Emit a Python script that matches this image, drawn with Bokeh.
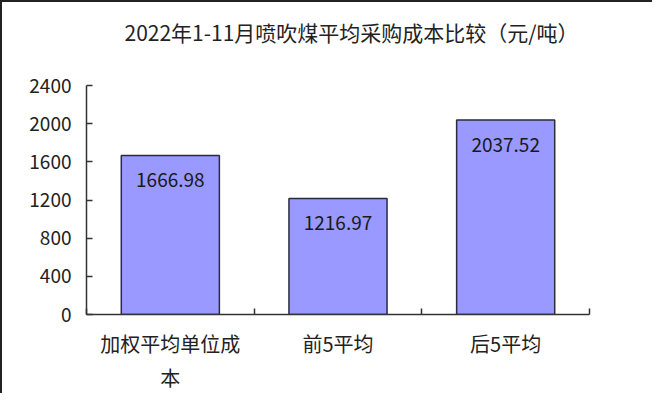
from bokeh.plotting import figure
from bokeh.models import Range1d, FixedTicker, Title
from bokeh.core.properties import value
from bokeh.embed import file_html
from bokeh.resources import INLINE

title_text = "2022年1-11月喷吹煤平均采购成本比较（元/吨）"
categories = ["加权平均单位成\n本", "前5平均", "后5平均"]
costs = [1666.98, 1216.97, 2037.52]
cost_labels = ["1666.98", "1216.97", "2037.52"]
y_ticks = [0, 400, 800, 1200, 1600, 2000, 2400]

FONT = "Noto Sans CJK SC"

xs = [i + 0.5 for i in range(len(categories))]

p = figure(width=652, height=393, output_backend="svg", toolbar_location=None,
           x_range=Range1d(0, len(categories)), y_range=Range1d(0, 2400),
           min_border_left=84, min_border_right=65, min_border_top=83, min_border_bottom=74)

p.title = Title(text=title_text, align="left", offset=38, standoff=0,
                text_font=FONT, text_font_size="21px", text_font_style="normal",
                text_color="#222222")
# invisible spacer between the title and the plot frame
p.add_layout(Title(text=" ", text_font_size="10px", standoff=26), "above")

p.vbar(x=xs, top=costs, width=0.585, fill_color="#9999FF", line_color="#2a2a40", line_width=1.5)
p.text(x=xs, y=costs, text=cost_labels, text_font=value(FONT), text_font_size="19px",
       text_align="center", text_baseline="middle", y_offset=25, text_color="#1a1a1a")

p.xgrid.visible = False
p.ygrid.visible = False
p.outline_line_color = None
p.background_fill_color = "white"
p.border_fill_color = "white"

ya = p.yaxis[0]
ya.ticker = FixedTicker(ticks=y_ticks)
ya.major_tick_in = 6
ya.major_tick_out = 0
ya.minor_tick_line_color = None
ya.axis_line_color = "#333333"
ya.axis_line_width = 1.5
ya.major_tick_line_color = "#333333"
ya.major_tick_line_width = 1.5
ya.major_label_text_font = FONT
ya.major_label_text_font_size = "19px"
ya.major_label_text_color = "#222222"
ya.major_label_standoff = 15

xa = p.xaxis[0]
xa.ticker = FixedTicker(ticks=xs, minor_ticks=list(range(len(categories) + 1)))
xa.major_label_overrides = {x: c for x, c in zip(xs, categories)}
xa.major_tick_in = 0
xa.major_tick_out = 0
xa.minor_tick_in = 6
xa.minor_tick_out = 0
xa.minor_tick_line_color = "#333333"
xa.minor_tick_line_width = 1.5
xa.axis_line_color = "#333333"
xa.axis_line_width = 1.5
xa.major_label_text_font = FONT
xa.major_label_text_font_size = "20px"
xa.major_label_text_color = "#222222"
xa.major_label_standoff = 14

p.styles = {"border-left": "2px solid #222222", "border-top": "2px solid #222222"}

open("out.html", "w").write(file_html(p, INLINE))
